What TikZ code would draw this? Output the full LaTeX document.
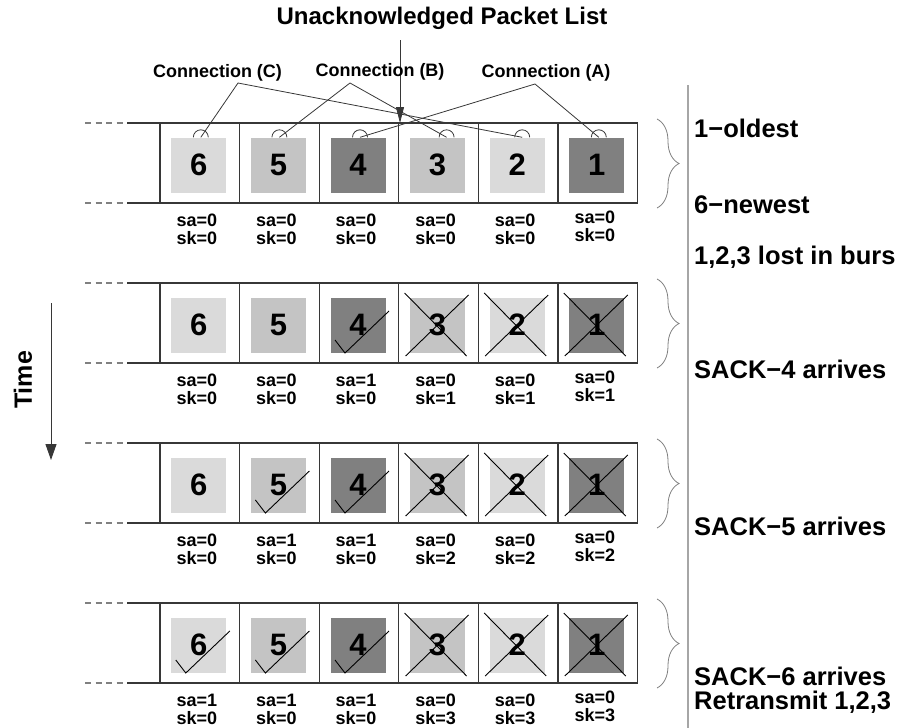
\documentclass[tikz,border=0pt]{standalone}
\usepackage{fontspec}
\setmainfont{Liberation Sans}
\usetikzlibrary{arrows.meta,decorations.pathreplacing}

\definecolor{pktlight}{RGB}{218,218,218}
\definecolor{pktmid}{RGB}{196,196,196}
\definecolor{pktdark}{RGB}{128,128,128}
\definecolor{edge}{RGB}{55,55,55}

\tikzset{
  pkt/.style={fill=#1, minimum width=55pt, minimum height=55pt, inner sep=0pt,
    font=\fontsize{31}{31}\selectfont\bfseries},
  flags/.style={align=center, inner sep=0pt, font=\fontsize{18}{18}\selectfont\bfseries},
  note/.style={anchor=base west, inner sep=0pt, font=\fontsize{25.5}{25.5}\selectfont\bfseries},
  conn/.style={anchor=base, inner sep=0pt, font=\fontsize{18}{18}\selectfont\bfseries},
  frame/.style={draw=edge, line width=1.3pt},
  wire/.style={draw=edge, line width=0.8pt},
  ackmark/.style={draw=black, line width=0.9pt},
  lossmark/.style={draw=black, line width=0.9pt}
}

\begin{document}
\begin{tikzpicture}[x=1pt,y=1pt]
\useasboundingbox (0,0) rectangle (902,-728);

% one row of the list per time step
\foreach \r in {0,1,2,3} {
  \pgfmathsetmacro\rowy{-123-160*\r}
  \pgfmathsetmacro\rowb{\rowy-80}
  \draw[gray, line width=1.3pt, dash pattern=on 6pt off 4.5pt] (85,\rowy) -- (127,\rowy) (85,\rowb) -- (127,\rowb);
  \draw[frame] (127,\rowy) -- (637.6,\rowy) -- (637.6,\rowb) -- (127,\rowb);
  \foreach \i in {0,...,5} \draw[frame] (160+79.6*\i,\rowy) -- (160+79.6*\i,\rowb);
  \draw[gray, line width=0.8pt, decorate, decoration={brace,amplitude=22pt}] (657,\rowy+4) -- (657,\rowb-5);
  \foreach \i/\n/\c/\h in {0/6/pktlight/2,1/5/pktmid/1,2/4/pktdark/2,3/3/pktmid/9,4/2/pktlight/5,5/1/pktdark/2} {
    \pgfmathtruncatemacro\sa{and(\n>3,\n<4+\r)}
    \pgfmathtruncatemacro\sk{(\n<4)*\r}
    \pgfmathsetmacro\fy{\rowy-106+3*(\n==1)}
    \node[pkt=\c] (p\r\n) at (198.8+79.6*\i,\rowy-42) {\n};
    \node[flags] (f\r\n) at (196.8+79.6*\i,\fy) {sa=\sa\\sk=\sk};
    \ifnum\sa=1
      \draw[ackmark] (p\r\n.center) ++(-23,-15) -- ++(10,-13) -- ++(44,42);
    \fi
    \ifnum\sk>0
      \draw[lossmark] (p\r\n.center) ++(-33,32) -- ++(62,-63) (p\r\n.center) ++(-32,-31) -- ++(63,61);
    \fi
    \ifnum\r=0
      \path (p0\n.north) ++(\h,0) coordinate (h\n);
      \draw[wire] (h\n) ++(7.5,0) arc (0:180:7.5);
    \fi
  }
}

% list head and connections
\node[anchor=base, inner sep=0pt, font=\fontsize{24}{24}\selectfont\bfseries] (title) at (442,-24) {Unacknowledged Packet List};
\coordinate (listtop) at (400,-40);
\coordinate (listin) at (400,-123);
\draw[wire, -{Triangle[length=16pt,width=8pt]}] (listtop) -- (listin);

\node[conn] (connC) at (217.5,-77) {Connection (C)};
\node[conn] (connB) at (380,-76) {Connection (B)};
\node[conn] (connA) at (546,-77) {Connection (A)};
\coordinate (apexC) at (238,-83);
\coordinate (apexB) at (350,-83);
\coordinate (apexA) at (535,-84);
\draw[wire] (h6) -- (apexC) -- (h2);
\draw[wire] (h5) -- (apexB) -- (h3);
\draw[wire] (h4) -- (apexA) -- (h1);

% time axis
\coordinate (tstart) at (51,-303);
\coordinate (tend) at (51,-460);
\draw[edge, line width=1pt, -{Triangle[length=16pt,width=11pt]}] (tstart) -- (tend);
\node[rotate=90, inner sep=0pt, font=\fontsize{25}{25}\selectfont\bfseries] (time) at (23,-380) {Time};

% notes on the right
\draw[gray!70, line width=1.5pt] (688,-85) -- (688,-728);
\node[note] (oldest) at (694,-137) {1−oldest};
\node[note] (newest) at (694,-213) {6−newest};
\node[note] (burst) at (694,-264) {1,2,3 lost in burs};
\node[note] (sack4) at (694,-378) {SACK−4 arrives};
\node[note] (sack5) at (694,-535) {SACK−5 arrives};
\node[note] (sack6) at (694,-685) {SACK−6 arrives};
\node[note] (retx) at (694,-709) {Retransmit 1,2,3};
\end{tikzpicture}
\end{document}
